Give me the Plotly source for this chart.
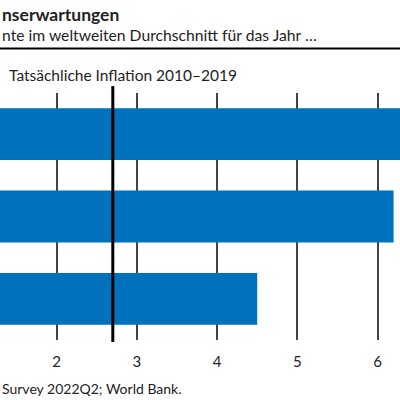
import plotly.graph_objects as go

# data (categories are cut off on the left)
years = ["2022", "2023", "2024"]
expected = [6.8, 6.2, 4.5]
actual_2010_2019 = 2.7
tick_vals = [2, 3, 4, 5, 6]

BLUE = "#0071bc"
TEXT = "#222222"
FONT = "Lato"

fig = go.Figure()
fig.add_trace(
    go.Bar(
        x=expected,
        y=years,
        orientation="h",
        marker=dict(color=BLUE, line=dict(width=0)),
        hoverinfo="skip",
    )
)

# the actual inflation marker
fig.add_shape(
    type="line",
    xref="x",
    yref="paper",
    x0=actual_2010_2019,
    x1=actual_2010_2019,
    y0=-0.008,
    y1=1.028,
    line=dict(color="black", width=3),
)
# rule under the headline
fig.add_shape(
    type="line",
    xref="paper",
    yref="paper",
    x0=0,
    x1=1,
    y0=1.18,
    y1=1.18,
    line=dict(color="black", width=2),
)

notes = [
    ("nserwartungen", 1.318, 17.5, True),
    ("nte im weltweiten Durchschnitt für das Jahr …", 1.236, 15.7, False),
    ("Survey 2022Q2; World Bank.", -0.195, 14, False),
]
for text, y, size, bold in notes:
    fig.add_annotation(
        text=f"<b>{text}</b>" if bold else text,
        xref="paper",
        yref="paper",
        x=0,
        y=y,
        xanchor="left",
        yanchor="middle",
        showarrow=False,
        font=dict(family=FONT, size=size, color=TEXT),
    )
fig.add_annotation(
    text="Tatsächliche Inflation 2010–2019",
    xref="paper",
    yref="paper",
    x=0.017,
    y=1.073,
    xanchor="left",
    yanchor="middle",
    showarrow=False,
    font=dict(family=FONT, size=15.5, color=TEXT),
)

fig.update_xaxes(
    range=[1.294, 6.28],
    tickvals=tick_vals,
    showgrid=True,
    gridcolor="#444444",
    gridwidth=1.5,
    zeroline=False,
    showline=False,
    ticks="outside",
    ticklen=8,
    tickcolor="rgba(0,0,0,0)",
    tickfont=dict(family=FONT, size=15, color=TEXT),
)
fig.update_yaxes(
    categoryorder="array",
    categoryarray=years[::-1],
    showticklabels=False,
    showgrid=False,
    zeroline=False,
)
fig.update_layout(
    width=400,
    height=400,
    margin=dict(l=0, r=0, t=93, b=60),
    bargap=0.37,
    plot_bgcolor="white",
    paper_bgcolor="white",
    showlegend=False,
)
# page margin would push the 400px figure off the window
fig.write_html(
    "out.html",
    config={"displayModeBar": False},
    post_script="document.body.style.margin = '0';",
)
